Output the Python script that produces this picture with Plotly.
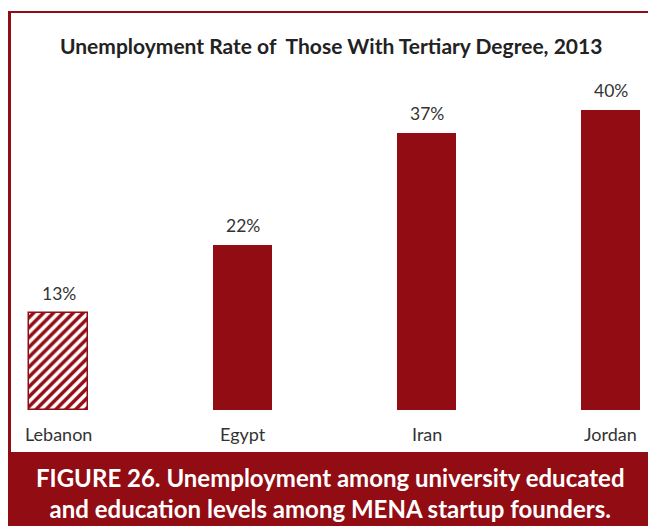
import plotly.graph_objects as go

# Unemployment rate of tertiary-educated, 2013 (%)
countries = ["Lebanon", "Egypt", "Iran", "Jordan"]
rates = [13, 22, 37, 40]
value_labels = ["13%", "22%", "37%", "40%"]

RED = "#920C14"
TEXT = "#333333"
FONT = "Lato"

xs = list(range(len(countries)))

fig = go.Figure()

# Lebanon drawn hatched, the rest solid
fig.add_trace(go.Bar(
    x=[xs[0]], y=[rates[0]], width=0.32,
    marker=dict(color="white", line=dict(color=RED, width=1.5),
                pattern=dict(shape="/", fgcolor=RED, bgcolor="white", fgopacity=1,
                             size=7, solidity=0.5, fillmode="replace")),
    hoverinfo="skip", showlegend=False,
))
fig.add_trace(go.Bar(
    x=xs[1:], y=rates[1:], width=0.32,
    marker=dict(color=RED, line=dict(width=0)),
    hoverinfo="skip", showlegend=False,
))

annotations = []
for x, v, lab, c in zip(xs, rates, value_labels, countries):
    annotations.append(dict(x=x, y=v, text=lab, showarrow=False, xref="x", yref="y",
                            yanchor="bottom", yshift=7,
                            font=dict(family=FONT, size=17.5, color=TEXT)))
    annotations.append(dict(x=x, y=0, text=c, showarrow=False, xref="x", yref="y",
                            yanchor="top", yshift=-11,
                            font=dict(family=FONT, size=18, color=TEXT)))

annotations.append(dict(
    x=331, y=45, xref="paper", yref="paper", xanchor="center", yanchor="middle",
    text="<b>Unemployment Rate of  Those With Tertiary Degree, 2013</b>",
    showarrow=False, font=dict(family=FONT, size=21, color="#222222"),
))
annotations.append(dict(
    x=330, y=493, xref="paper", yref="paper", xanchor="center", yanchor="middle",
    text="<b>FIGURE 26. Unemployment among university educated<br>and education levels among MENA startup founders.</b>",
    showarrow=False, font=dict(family=FONT, size=24, color="white"),
))

W, H = 648, 526
# convert pixel positions to paper coords for the text blocks
for a in annotations:
    if a.get("xref") == "paper":
        a["x"] = a["x"] / W
        a["y"] = 1 - a["y"] / H

shapes = [
    # frame: top rule and left rule
    dict(type="line", xref="paper", yref="paper", x0=8 / W, x1=1, y0=1 - 12 / H, y1=1 - 12 / H,
         line=dict(color=RED, width=2)),
    dict(type="line", xref="paper", yref="paper", x0=9.5 / W, x1=9.5 / W, y0=1 - 12 / H, y1=1 - 452 / H,
         line=dict(color=RED, width=3)),
    # caption banner
    dict(type="rect", xref="paper", yref="paper", x0=8 / W, x1=1, y0=0, y1=1 - 452 / H,
         fillcolor=RED, line=dict(width=0), layer="below"),
]

fig.update_layout(
    width=W, height=H,
    margin=dict(l=0, r=0, t=0, b=0),
    paper_bgcolor="white", plot_bgcolor="rgba(0,0,0,0)",
    xaxis=dict(range=[-58.5 / 184, 3 + 37.5 / 184], visible=False, fixedrange=True),
    yaxis=dict(range=[-116 / 7.5, 410 / 7.5], visible=False, fixedrange=True),
    annotations=annotations,
    shapes=shapes,
    bargap=0,
)

fig.write_html("out.html", config={"displayModeBar": False})
